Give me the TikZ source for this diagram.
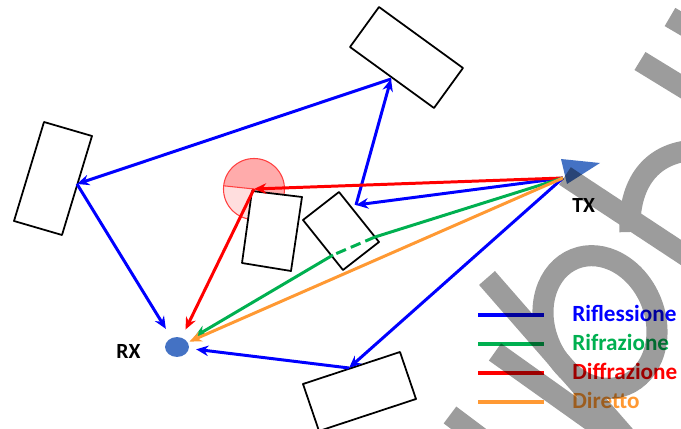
\documentclass[tikz,border=0pt]{standalone}
\usepackage{fontspec}
\setmainfont{Carlito}
\usepackage{tikz}
\usetikzlibrary{arrows.meta}
\usetikzlibrary{shapes.geometric}

\definecolor{rifl}{RGB}{0,0,255}
\definecolor{rifr}{RGB}{0,176,80}
\definecolor{diff}{RGB}{255,0,0}
\definecolor{dir}{RGB}{255,153,51}
\definecolor{antenna}{RGB}{68,114,196}

\begin{document}
\begin{tikzpicture}[x=0.02cm, y=-0.02cm,
		wall/.style={draw=black, line width=1pt, fill=white, line join=round},
		ray/.style={line width=1.7pt, -{Stealth[length=7pt, width=6pt]}},
		key/.style={line width=2.2pt},
		mark stroke/.style={draw=black, line width=12pt},
		lab/.style={font=\fontsize{12.3}{14}\selectfont\bfseries, inner sep=0pt, anchor=base west},
		leg/.style={font=\fontsize{13.2}{16}\selectfont\bfseries, inner sep=0pt, anchor=base west}]
	\useasboundingbox (0,0) rectangle (681,429);
		\coordinate (dif) at (254,189);
		\fill[red!33] (dif) circle (30.5);
		\fill[red!13] (dif) -- ++(186:30.5) arc[start angle=186, end angle=60, radius=30.5] -- cycle;
		\draw[red!75, line width=0.6pt] (dif) circle (30.5);
		\draw[red!75, line width=0.6pt] (dif) -- ++(186:30.5);
		\draw[wall] (379,7) -- (463,68) -- (434,108) -- (350,47) -- cycle;
		\draw[wall] (44,122) -- (92,136) -- (62,235) -- (14,221) -- cycle;
		\draw[wall] (252,191) -- (302,197) -- (291,271) -- (242,263) -- cycle;
		\draw[wall] (339,192) -- (379,242) -- (343,270) -- (303,220) -- cycle;
		\draw[wall] (303,384) -- (400,352) -- (416,399) -- (319,431) -- cycle;
		\coordinate (tx) at (563,178);
		\coordinate (pD) at (356,205);
		\coordinate (pA) at (391,79);
		\coordinate (pB) at (77,184);
		\coordinate (pE) at (349,368);
		\coordinate (g1) at (375,237);
		\coordinate (g2) at (333,255);
		\node[ellipse, fill=antenna, minimum width=13.6pt, minimum height=11.3pt, inner sep=0pt] (rx) at (177,347) {};
		\draw[ray, rifl] (tx) -- (pD);
		\draw[ray, rifl] (pD) -- (pA);
		\draw[ray, rifl] (pA) -- (pB);
		\draw[ray, rifl, shorten >=6pt] (pB) -- (rx);
		\draw[ray, rifl] (tx) -- (pE);
		\draw[ray, rifl, shorten >=4pt] (pE) -- (rx);
		\draw[ray, diff] (tx) -- (dif);
		\draw[ray, diff, shorten >=5pt] (dif) -- (rx);
		\draw[rifr, line width=1.7pt] (tx) -- (g1);
		\draw[rifr, line width=1.7pt, dash pattern=on 6pt off 3pt] (g1) -- (g2);
		\draw[ray, rifr, shorten >=5pt] (g2) -- (rx);
		\draw[ray, dir, shorten >=1pt] (tx) -- (rx);
		\fill[antenna] (561,159) -- (600,163) -- (567,184) -- cycle;
		\node[lab] (txl) at (572,213) {TX};
		\node[lab] (rxl) at (116,359) {RX};
		\foreach \c/\t [count=\i] in {rifl/Riflessione, rifr/Rifrazione, diff/Diffrazione, dir/Diretto} {
			\draw[key, \c] (478,{286+29*\i}) -- (544,{286+29*\i});
			\node[leg, text=\c] (leg\i) at (572,{293+29*\i}) {\t};
		}
		\begin{scope}[transparency group, opacity=0.39]
			\draw[mark stroke] (670,17) -- (740,58);
			\draw[mark stroke] (640,61) -- (720,110);
			\draw[mark stroke] (565,176) -- (700,265);
			\draw[mark stroke] (630,232) .. controls (628,185) and (650,150) .. (700,150);
			\draw[mark stroke] (487,278) -- (625,436);
			\draw[mark stroke, shift={(600,322)}, rotate=-68] (0,0) ellipse (68 and 55);
			\draw[mark stroke] (495,352) -- (620,441);
			\draw[mark stroke] (450,415) -- (490,445);
		\end{scope}
	\end{tikzpicture}
\end{document}
